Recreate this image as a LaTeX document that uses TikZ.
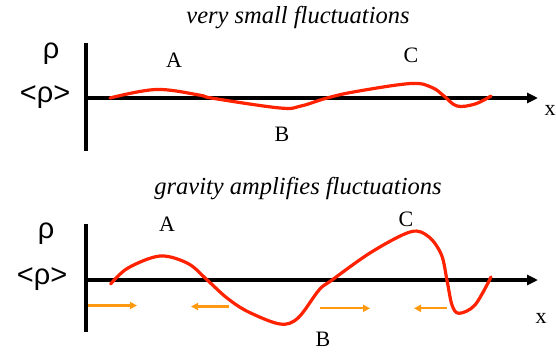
\documentclass[tikz,border=0pt]{standalone}
\usepackage{fontspec}
\setmainfont{Liberation Serif}
\newfontfamily\rhofont{Liberation Sans}
\usetikzlibrary{arrows.meta,positioning,calc}
\definecolor{wave}{HTML}{FF2200}
\definecolor{flowor}{HTML}{FF9A10}
\tikzset{axis/.style={line width=3.6pt,draw=black},
  xaxis/.style={axis,-{Triangle[length=11pt,width=10pt]}},
  wavecurve/.style={line width=3.2pt,draw=wave,line cap=round,line join=round},
  drift/.style={line width=2.2pt,draw=flowor,-{Triangle[length=7pt,width=7pt]}},
  lbl/.style={font=\fontsize{22}{24}\selectfont,inner sep=0pt},
  rholbl/.style={font=\rhofont\fontsize{29}{31}\selectfont,inner sep=0pt},
  head/.style={font=\itshape\fontsize{24.5}{26}\selectfont,inner sep=0pt}}

\begin{document}
\begin{tikzpicture}[x=1pt,y=-1pt]
\useasboundingbox (0,0) rectangle (556,351);
% top panel
\node[head] (t1) at (298,18) {very small fluctuations};
\coordinate (o1t) at (86,43);
\coordinate (o1b) at (86,151);
\coordinate (o1) at (86,98);
\coordinate (x1) at (538,98);
\draw[axis] (o1t)--(o1b);
\draw[xaxis] (o1)--(x1);
\node[rholbl] (r1) at (51,54) {ρ};
\node[rholbl] (m1) at (45,97) {<ρ>};
\node[lbl] (xl1) at (550,110) {x};
\node[lbl] (a1) at (174,60) {A};
\node[lbl] (b1) at (282,134) {B};
\node[lbl] (c1) at (411,55) {C};
\draw[wavecurve] plot[smooth,tension=0.6] coordinates {(110,98) (156,89.5) (199,95) (213,98.3)
  (280,108) (301,106) (326,98.3) (355,91.7) (411,83.5) (432,87.5) (444,96)
  (457,106) (475,104) (491,96)};
% bottom panel
\node[head] (t2) at (298,189) {gravity amplifies fluctuations};
\coordinate (o2t) at (86,224);
\coordinate (o2b) at (86,332);
\coordinate (o2) at (86,280);
\coordinate (x2) at (538,280);
\draw[axis] (o2t)--(o2b);
\draw[xaxis] (o2)--(x2);
\node[rholbl] (r2) at (46,234) {ρ};
\node[rholbl] (m2) at (42,279) {<ρ>};
\node[lbl] (xl2) at (541,318) {x};
\node[lbl] (a2) at (167,224) {A};
\node[lbl] (b2) at (323,339) {B};
\node[lbl] (c2) at (406,219) {C};
\draw[wavecurve] plot[smooth,tension=0.55] coordinates {(110.6,284) (128,268) (160,256) (188,263.5)
  (207.5,280.3) (227,298) (248,311.7) (280,324) (298,318) (319,290) (331.6,280.3) (372,251.7)
  (411,231.7) (429,237) (441.5,255) (447,280.3) (452,305) (459,313.3) (475,305) (491,277)};
% infall of matter
\coordinate (f1s) at (88,305.5);
\coordinate (f1e) at (137,305.5);
\coordinate (f2s) at (229,306.5);
\coordinate (f2e) at (191,306.5);
\coordinate (f3s) at (320,308.3);
\coordinate (f3e) at (370,308.3);
\coordinate (f4s) at (447,308.3);
\coordinate (f4e) at (414,308.3);
\draw[drift] (f1s)--(f1e);
\draw[drift] (f2s)--(f2e);
\draw[drift] (f3s)--(f3e);
\draw[drift] (f4s)--(f4e);
\end{tikzpicture}
\end{document}
